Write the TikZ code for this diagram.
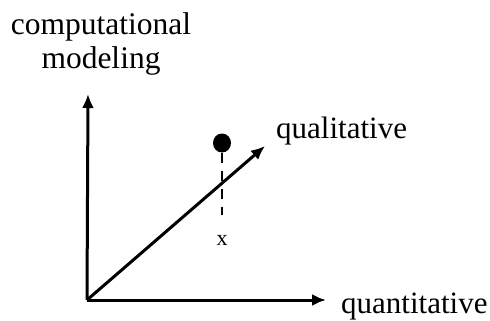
\documentclass[tikz,border=0pt]{standalone}
\usepackage{fontspec}
\setmainfont{Liberation Serif}
\usetikzlibrary{arrows.meta,shapes.geometric}
\begin{document}
\begin{tikzpicture}[x=1pt,y=-1pt,
  axis/.style={line width=3pt,-{Latex[length=14pt,width=12pt]}},
  lbl/.style={inner sep=0pt,anchor=base west,font=\fontsize{31}{34}\selectfont},
  guide/.style={line width=2.4pt,dash pattern=on 10pt off 8pt}]
\useasboundingbox (0,0) rectangle (490,321);
\coordinate (O) at (87,300);
\coordinate (Ytip) at (88,94);
\coordinate (Xtip) at (326,300);
\coordinate (Dtip) at (265,146);
\draw[axis] (O) -- (Ytip);
\draw[axis] (O) -- (Xtip);
\draw[axis] (O) -- (Dtip);
\node[inner sep=0pt,align=center,font=\fontsize{31.5}{34}\selectfont] (ylbl) at (101,44) {computational\\modeling};
\node[lbl] (qual) at (276,138) {qualitative};
\node[lbl] (quan) at (341,313) {quantitative};
\node[fill=black,ellipse,minimum width=18pt,minimum height=19pt,inner sep=0pt,draw=none] (dot) at (222,143) {};
\coordinate (xtop) at (222,215);
\draw[guide] (dot.south) -- (xtop);
\node[inner sep=0pt,font=\fontsize{22}{23}\selectfont] (xl) at (222,240) {x};
\end{tikzpicture}
\end{document}
